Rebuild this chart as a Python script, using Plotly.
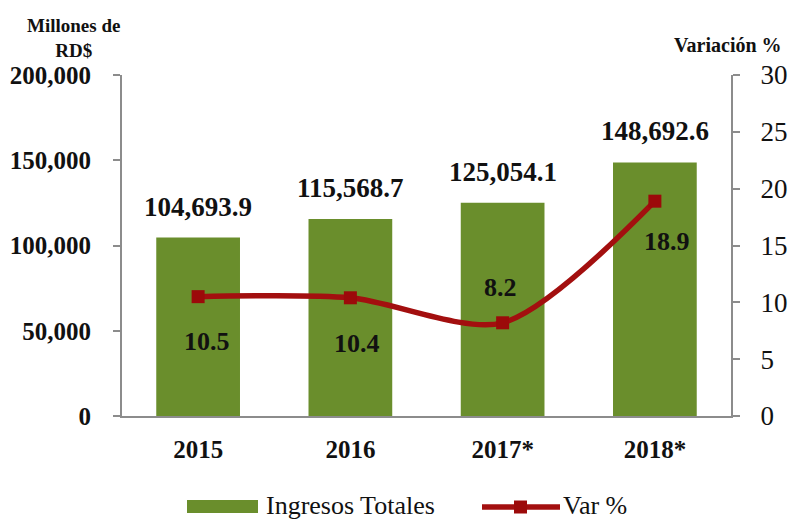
import plotly.graph_objects as go

years = ["2015", "2016", "2017*", "2018*"]
ingresos = [104693.9, 115568.7, 125054.1, 148692.6]
variacion = [10.5, 10.4, 8.2, 18.9]
left_ticks = [0, 50000, 100000, 150000, 200000]
right_ticks = [0, 5, 10, 15, 20, 25, 30]
series_names = ["Ingresos Totales", "Var %"]

serif = "Liberation Serif"
serif_reg = "'Times New Roman', 'Liberation Serif', 'DejaVu Serif', serif"
bar_color = "#6a8e2c"
line_color = "#a30f0f"
marker_color = "#9c0a0a"
axis_gray = "#8c8c8c"
ink = "#111111"

W, H = 788, 520
L, R, T, B = 122, 57, 75, 104
PW, PH = W - L - R, H - T - B


def px_x(px):
    return (px - L) / PW


def px_y(py):
    return (H - B - py) / PH


pos = list(range(len(years)))

fig = go.Figure()

fig.add_trace(go.Bar(
    x=pos, y=ingresos, name=series_names[0], width=0.55,
    marker=dict(color=bar_color, line=dict(width=0)),
    yaxis="y", showlegend=False,
))

fig.add_trace(go.Scatter(
    x=pos, y=variacion, name=series_names[1], yaxis="y2",
    mode="lines+markers", showlegend=False,
    line=dict(color=line_color, width=5.5, shape="spline", smoothing=0.8),
    marker=dict(symbol="square", size=13, color=marker_color),
))

# value labels above the bars
for p, v in zip(pos, ingresos):
    fig.add_annotation(
        x=p, y=v, xref="x", yref="y", text=f"{v:,.1f}",
        showarrow=False, yshift=31,
        font=dict(family=serif, size=27, color=ink, weight="bold"),
    )

# labels for the variation line
var_offsets = [(9, -45), (7, -46), (-2, 35), (12, -40)]
for p, v, (dx, dy) in zip(pos, variacion, var_offsets):
    fig.add_annotation(
        x=p, y=v, xref="x", yref="y2", text=f"{v:.1f}",
        showarrow=False, xshift=dx, yshift=dy,
        font=dict(family=serif, size=26, color=ink, weight="bold"),
    )

# axis titles
fig.add_annotation(
    x=px_x(73), y=px_y(38), xref="paper", yref="paper", text="Millones de<br>RD$",
    showarrow=False, xanchor="center", yanchor="middle",
    font=dict(family=serif, size=19, color=ink, weight="bold"),
)
fig.add_annotation(
    x=px_x(784), y=px_y(45), xref="paper", yref="paper", text="Variación %",
    xanchor="right", yanchor="middle",
    showarrow=False, font=dict(family=serif, size=20, color=ink, weight="bold"),
)

# legend drawn below the plot
leg_y = 505
fig.add_shape(type="rect", xref="paper", yref="paper",
              x0=px_x(187), x1=px_x(258), y0=px_y(513), y1=px_y(500),
              fillcolor=bar_color, line=dict(width=0))
fig.add_annotation(
    x=px_x(264), y=px_y(leg_y), xref="paper", yref="paper", text=series_names[0],
    xanchor="left", yanchor="middle", showarrow=False,
    font=dict(family=serif_reg, size=26, color=ink),
)
fig.add_shape(type="line", xref="paper", yref="paper",
              x0=px_x(482), x1=px_x(560), y0=px_y(507), y1=px_y(507),
              line=dict(color=line_color, width=5.5))
fig.add_shape(type="rect", xref="paper", yref="paper",
              x0=px_x(514), x1=px_x(527), y0=px_y(513.5), y1=px_y(500.5),
              fillcolor=marker_color, line=dict(width=0))
fig.add_annotation(
    x=px_x(561), y=px_y(leg_y), xref="paper", yref="paper", text=series_names[1],
    xanchor="left", yanchor="middle", showarrow=False,
    font=dict(family=serif_reg, size=26, color=ink),
)

fig.update_layout(
    width=W, height=H,
    margin=dict(l=L, r=R, t=T, b=B, autoexpand=False),
    paper_bgcolor="white", plot_bgcolor="white",
    font=dict(family=serif_reg, color=ink),
    showlegend=False,
    xaxis=dict(
        range=[-0.5, len(years) - 0.5],
        tickvals=pos, ticktext=years,
        showline=True, linecolor=axis_gray, linewidth=2,
        tickfont=dict(family=serif, size=25, weight="bold", color=ink),
        ticks="", ticklabelstandoff=10, showgrid=False, zeroline=False,
    ),
    yaxis=dict(
        range=[0, 200000], tickvals=left_ticks,
        ticktext=[f"{t:,}" for t in left_ticks],
        showline=True, linecolor=axis_gray, linewidth=2,
        ticks="outside", ticklen=7, tickcolor=axis_gray, tickwidth=2,
        ticklabelstandoff=17,
        tickfont=dict(family=serif, size=25, weight="bold", color=ink),
        showgrid=False, zeroline=False,
    ),
    yaxis2=dict(
        range=[0, 30], tickvals=right_ticks, overlaying="y", side="right",
        showline=True, linecolor=axis_gray, linewidth=2,
        ticks="outside", ticklen=7, tickcolor=axis_gray, tickwidth=2,
        ticklabelstandoff=15,
        tickfont=dict(family=serif_reg, size=27, color=ink),
        showgrid=False, zeroline=False,
    ),
)

fig.write_html("out.html")
